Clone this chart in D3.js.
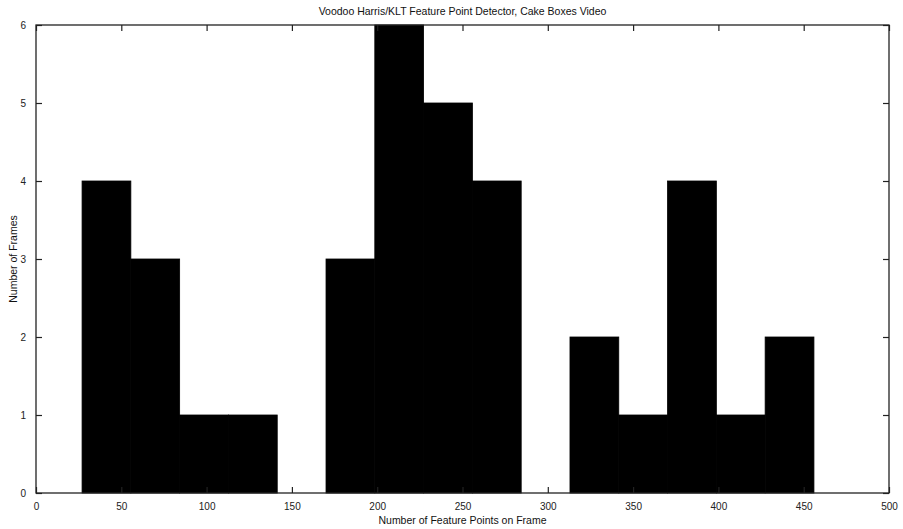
<!DOCTYPE html>
<html>
<head>
<meta charset="utf-8">
<script src="https://cdn.jsdelivr.net/npm/d3@7"></script>
<style>
  html, body { margin: 0; padding: 0; background: #fff; }
  svg { display: block; font-family: "Liberation Sans", Arial, sans-serif; }
</style>
</head>
<body>
<div id="hist"></div>
<script>
// bin edges (number of feature points)
const binEdges = [27, 55.6, 84.2, 112.8, 141.4, 170, 198.6, 227.2, 255.8, 284.4, 313, 341.6, 370.2, 398.8, 427.4, 456];
const binCounts = [4, 3, 1, 1, 0, 3, 6, 5, 4, 0, 2, 1, 4, 1, 2];
const xTicks = [0, 50, 100, 150, 200, 250, 300, 350, 400, 450, 500];
const yTicks = [0, 1, 2, 3, 4, 5, 6];
const titleText = 'Voodoo Harris/KLT Feature Point Detector, Cake Boxes Video';
const xLabel = 'Number of Feature Points on Frame';
const yLabel = 'Number of Frames';

(function () {
  const width = 903, height = 529;
  const margin = { top: 25, right: 14, bottom: 36, left: 36 };
  const innerWidth = width - margin.left - margin.right;
  const innerHeight = height - margin.top - margin.bottom;

  const svg = d3.select('#hist').append('svg')
    .attr('width', width)
    .attr('height', height);

  const g = svg.append('g').attr('transform', `translate(${margin.left},${margin.top})`);

  const x = d3.scaleLinear().domain([0, 500]).range([0, innerWidth]);
  const y = d3.scaleLinear().domain([0, 6]).range([innerHeight, 0]);

  const bins = binCounts.map((c, i) => ({ x0: binEdges[i], x1: binEdges[i + 1], n: c }));

  // bars (black edge too, so no seams between neighbours)
  g.append('g').selectAll('rect').data(bins.filter(d => d.n > 0)).join('rect')
    .attr('x', d => x(d.x0))
    .attr('width', d => x(d.x1) - x(d.x0))
    .attr('y', d => y(d.n))
    .attr('height', d => y(0) - y(d.n))
    .attr('fill', '#000')
    .attr('stroke', '#000')
    .attr('stroke-width', 0.8);

  // axes, ticks pointing inward like matlab
  const tickStyle = s => {
    s.select('.domain').remove();
    s.selectAll('line').attr('stroke', '#222').attr('stroke-width', 1.2);
    s.selectAll('text').attr('fill', '#222').attr('font-size', 10);
  };

  g.append('g').attr('transform', `translate(0,${innerHeight})`)
    .call(d3.axisBottom(x).tickValues(xTicks).tickSizeInner(-6).tickSizeOuter(0).tickPadding(10))
    .call(tickStyle);
  g.append('g')
    .call(d3.axisTop(x).tickValues(xTicks).tickSizeInner(-6).tickSizeOuter(0).tickFormat(''))
    .call(tickStyle);
  g.append('g')
    .call(d3.axisLeft(y).tickValues(yTicks).tickFormat(d3.format('d')).tickSizeInner(-6).tickSizeOuter(0).tickPadding(10))
    .call(tickStyle);
  g.append('g').attr('transform', `translate(${innerWidth},0)`)
    .call(d3.axisRight(y).tickValues(yTicks).tickSizeInner(-6).tickSizeOuter(0).tickFormat(''))
    .call(tickStyle);

  // frame
  g.append('rect')
    .attr('width', innerWidth)
    .attr('height', innerHeight)
    .attr('fill', 'none')
    .attr('stroke', '#222')
    .attr('stroke-width', 1.3);

  svg.append('text')
    .attr('x', margin.left + innerWidth / 2)
    .attr('y', 15)
    .attr('text-anchor', 'middle')
    .attr('font-size', 10.5)
    .attr('fill', '#111')
    .text(titleText);

  svg.append('text')
    .attr('x', margin.left + innerWidth / 2)
    .attr('y', 524)
    .attr('text-anchor', 'middle')
    .attr('font-size', 10.5)
    .attr('fill', '#111')
    .text(xLabel);

  svg.append('text')
    .attr('transform', `translate(17,${margin.top + innerHeight / 2}) rotate(-90)`)
    .attr('text-anchor', 'middle')
    .attr('font-size', 10.5)
    .attr('fill', '#111')
    .text(yLabel);
})();
</script>
</body>
</html>
